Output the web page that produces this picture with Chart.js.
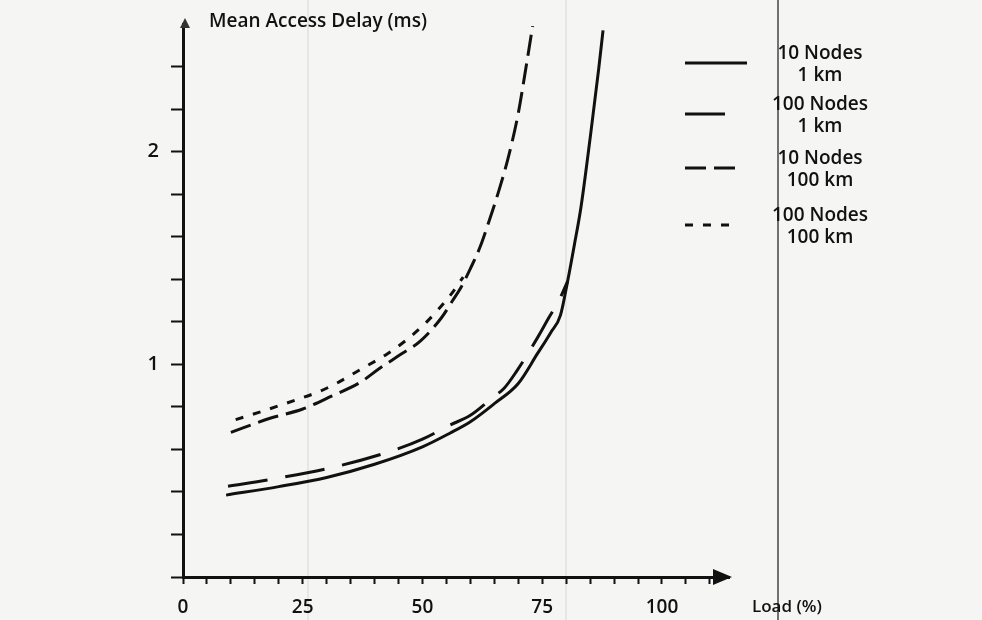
<!DOCTYPE html>
<html>
<head>
<meta charset="utf-8">
<script src="https://cdn.jsdelivr.net/npm/chart.js@4.4.1/dist/chart.umd.min.js"></script>
<style>
  html, body { margin: 0; padding: 0; background: #f5f5f4; }
  #wrap { width: 982px; height: 620px; }
</style>
</head>
<body>
<div id="wrap"><canvas id="delayChart" width="982" height="620"></canvas></div>
<script>
// Data (load in %, delay in ms)
const load10n1km = [9, 20, 30, 40, 50, 55.7, 60, 65, 70, 74, 76.8, 78.8, 80.3, 81.7, 83.1, 85.1, 86.8, 87.7];
const delay10n1km = [0.385, 0.425, 0.468, 0.53, 0.612, 0.676, 0.73, 0.815, 0.91, 1.05, 1.15, 1.23, 1.39, 1.56, 1.74, 2.08, 2.39, 2.57];

const load100n1km = [9.4, 18.6, 31.4, 44, 50, 55.7, 60, 65, 67, 69.5, 74.3, 76.4, 78.5, 80.3];
const delay100n1km = [0.427, 0.46, 0.516, 0.596, 0.648, 0.714, 0.76, 0.85, 0.886, 0.962, 1.136, 1.22, 1.30, 1.39];

const load10n100km = [10, 18, 25, 31, 37, 41, 45, 49.6, 54, 56.3, 58, 60, 62, 64, 66, 68, 70, 71.5, 73];
const delay10n100km = [0.68, 0.745, 0.79, 0.85, 0.915, 0.98, 1.04, 1.11, 1.22, 1.30, 1.36, 1.45, 1.55, 1.68, 1.82, 1.98, 2.18, 2.38, 2.59];

const load100n100km = [11, 16, 20, 24, 28, 32, 37, 42.7, 46.4, 50, 53, 56, 58.5];
const delay100n100km = [0.74, 0.775, 0.805, 0.836, 0.868, 0.91, 0.975, 1.05, 1.11, 1.18, 1.25, 1.33, 1.41];

const seriesNames = [['10 Nodes', '1 km'], ['100 Nodes', '1 km'], ['10 Nodes', '100 km'], ['100 Nodes', '100 km']];
const xTickLabels = [0, 25, 50, 75, 100];
const yTickLabels = [1, 2];

const ink = '#111';
const font = '"Open Sans", "DejaVu Sans", sans-serif';

function points(xs, ys) {
    return xs.map((x, i) => ({ x: x, y: ys[i] }));
}

function series(name, xs, ys, dash) {
    return {
        label: name.join(' '),
        data: points(xs, ys),
        borderColor: ink,
        borderWidth: 3,
        borderDash: dash,
        pointRadius: 0,
        fill: false,
        cubicInterpolationMode: 'monotone'
    };
}

// Axis arrows, titles, legend and the scan's page lines
const decor = {
    id: 'decor',
    beforeDraw(chart) {
        const c = chart.ctx;
        c.save();
        c.fillStyle = '#f5f5f4';
        c.fillRect(0, 0, chart.width, chart.height);
        c.strokeStyle = 'rgba(0,0,0,0.12)';
        c.lineWidth = 1;
        [308, 566].forEach(x => {
            c.beginPath(); c.moveTo(x, 0); c.lineTo(x, chart.height); c.stroke();
        });
        c.strokeStyle = '#444';
        c.lineWidth = 1.5;
        c.beginPath(); c.moveTo(778, 0); c.lineTo(778, chart.height); c.stroke();
        c.restore();
    },
    afterDraw(chart) {
        const c = chart.ctx;
        const a = chart.chartArea;
        c.save();
        c.fillStyle = ink;
        // x arrow
        c.beginPath();
        c.moveTo(a.right + 3, a.bottom);
        c.lineTo(a.right - 16, a.bottom - 8);
        c.lineTo(a.right - 16, a.bottom + 8);
        c.closePath();
        c.fill();
        // y arrow
        c.fillStyle = '#333';
        c.beginPath();
        c.moveTo(a.left + 2, a.top - 6);
        c.lineTo(a.left - 3, a.top + 4);
        c.lineTo(a.left + 7, a.top + 4);
        c.closePath();
        c.fill();

        c.fillStyle = ink;
        c.font = '600 19px ' + font;
        c.textBaseline = 'middle';
        c.textAlign = 'left';
        c.fillText('Mean Access Delay (ms)', 209, 22);
        c.font = '600 17px ' + font;
        c.fillText('Load (%)', 752, 607);

        // legend
        const lineY = [63, 114, 168, 225];
        const lineEnd = [747, 730, 735, 735];
        c.font = '600 19px ' + font;
        c.textAlign = 'center';
        chart.data.datasets.forEach((ds, i) => {
            c.save();
            c.strokeStyle = ds.borderColor;
            c.lineWidth = 3;
            c.setLineDash(ds.borderDash || []);
            c.beginPath();
            c.moveTo(685, lineY[i]);
            c.lineTo(lineEnd[i], lineY[i]);
            c.stroke();
            c.restore();
            c.fillText(seriesNames[i][0], 820, lineY[i] - 9);
            c.fillText(seriesNames[i][1], 820, lineY[i] + 13);
        });
        c.restore();
    }
};

const ctx = document.getElementById('delayChart').getContext('2d');
const delayChart = new Chart(ctx, {
    type: 'line',
    data: {
        datasets: [
            series(seriesNames[0], load10n1km, delay10n1km, []),
            series(seriesNames[1], load100n1km, delay100n1km, [40, 18]),
            series(seriesNames[2], load10n100km, delay10n100km, [21, 8]),
            series(seriesNames[3], load100n100km, delay100n100km, [8, 10])
        ]
    },
    options: {
        responsive: false,
        animation: false,
        layout: { padding: { left: 0, top: 23, right: 253, bottom: 0 } },
        plugins: {
            legend: { display: false },
            tooltip: { enabled: false }
        },
        scales: {
            x: {
                type: 'linear',
                min: 0,
                max: 114,
                afterFit: s => { s.height = 43; },
                afterBuildTicks: s => { s.ticks = s.ticks.filter(t => t.value <= 110); },
                border: { display: true, color: ink, width: 3 },
                grid: { drawOnChartArea: false, drawTicks: true, tickLength: 7, tickColor: ink, tickWidth: 2 },
                ticks: {
                    stepSize: 5,
                    includeBounds: false,
                    autoSkip: false,
                    maxRotation: 0,
                    padding: 12,
                    color: ink,
                    font: { family: font, size: 19, weight: '600' },
                    callback: v => xTickLabels.includes(v) ? String(v) : ''
                }
            },
            y: {
                min: 0,
                max: 2.6,
                afterFit: s => { s.width = 183; },
                afterBuildTicks: s => { s.ticks = s.ticks.filter(t => t.value < 2.5); },
                border: { display: true, color: ink, width: 3 },
                grid: { drawOnChartArea: false, drawTicks: true, tickLength: 12, tickColor: ink, tickWidth: 2 },
                ticks: {
                    stepSize: 0.2,
                    includeBounds: false,
                    autoSkip: false,
                    padding: 12,
                    color: ink,
                    font: { family: font, size: 20, weight: '600' },
                    callback: v => yTickLabels.includes(Math.round(v * 10) / 10) ? String(Math.round(v)) : ''
                }
            }
        }
    },
    plugins: [decor]
});
</script>
</body>
</html>
